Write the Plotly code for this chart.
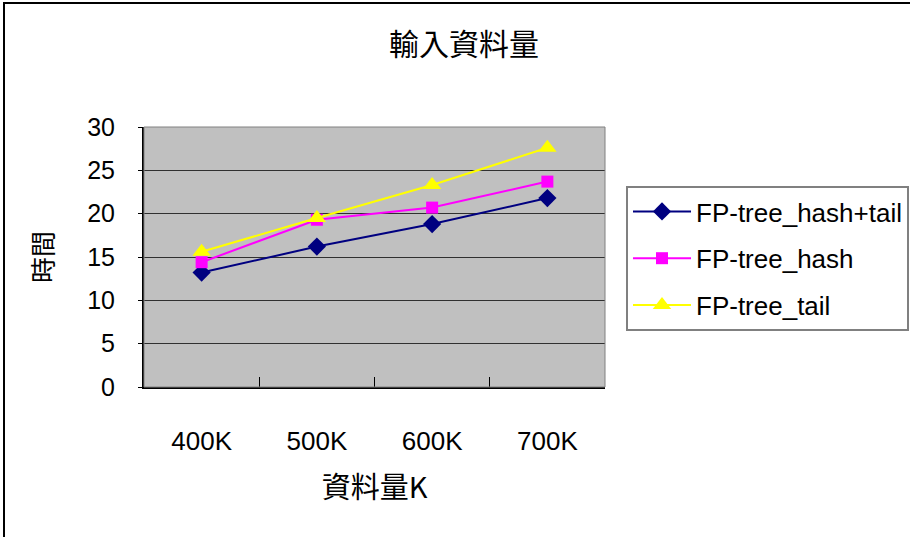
import plotly.graph_objects as go

# Input size categories (thousands of records)
categories = ["400K", "500K", "600K", "700K"]

# Run time for each FP-tree variant
hash_tail = [13.2, 16.2, 18.8, 21.8]
hash_only = [14.4, 19.3, 20.7, 23.7]
tail_only = [15.6, 19.5, 23.3, 27.6]

series_names = ["FP-tree_hash+tail", "FP-tree_hash", "FP-tree_tail"]

y_ticks = [0, 5, 10, 15, 20, 25, 30]

FONT = "Liberation Sans, Arial, Noto Sans CJK TC, sans-serif"
CJK = "Noto Sans CJK TC, Liberation Sans, sans-serif"

W, H = 910, 537
L, R, T, B = 144, 605, 127, 387

fig = go.Figure()

styles = [
    dict(color="#000080", symbol="diamond", size=14),
    dict(color="#FF00FF", symbol="square", size=12),
    dict(color="#FFFF00", symbol="triangle-up", size=16),
]

for name, vals, st, grp in zip(series_names, [hash_tail, hash_only, tail_only], styles, ["a", "b", "c"]):
    fig.add_trace(go.Scatter(
        x=categories, y=vals, name=name, mode="lines+markers",
        legendgroup=grp,
        line=dict(color=st["color"], width=2),
        marker=dict(symbol=st["symbol"], size=st["size"], color=st["color"],
                    line=dict(width=0)),
    ))

# outer chart frame
fig.add_shape(type="rect", xref="paper", yref="paper",
              x0=(4 - L) / (R - L), x1=(915 - L) / (R - L),
              y0=(B - 545) / (B - T), y1=(B - 3) / (B - T),
              line=dict(color="black", width=2), fillcolor="rgba(0,0,0,0)", layer="below")

# plot area border
fig.add_shape(type="rect", xref="paper", yref="paper", x0=0, x1=1, y0=0, y1=1,
              line=dict(color="#808080", width=1), fillcolor="rgba(0,0,0,0)", layer="above")

fig.update_layout(
    width=W, height=H,
    margin=dict(l=L, r=W - R, t=T, b=H - B, pad=0, autoexpand=False),
    paper_bgcolor="white",
    plot_bgcolor="#C0C0C0",
    font=dict(family=FONT, color="black", size=24),
    title=dict(text="輸入資料量", x=464 / W, xanchor="center", xref="container",
               y=1 - 44 / H, yanchor="middle", yref="container",
               font=dict(family=CJK, size=30, color="black")),
    showlegend=True,
    legend=dict(
        x=(626 - L) / (R - L), xanchor="left",
        y=(B - 186) / (B - T), yanchor="top",
        bgcolor="white", bordercolor="#808080", borderwidth=2,
        font=dict(family=FONT, size=26, color="black"),
        traceorder="grouped", tracegroupgap=10,
        itemwidth=58,
    ),
    xaxis=dict(
        type="category",
        tickson="boundaries", ticks="inside", ticklen=10, tickcolor="black",
        showline=True, linecolor="black", linewidth=2,
        showgrid=False, mirror=False,
        tickfont=dict(family=FONT, size=26),
        ticklabelstandoff=30,
        title=dict(text="資料量K", font=dict(family=CJK, size=29), standoff=22),
        range=[-0.5, 3.5],
    ),
    yaxis=dict(
        range=[0, 30], tickvals=y_ticks,
        ticks="outside", ticklen=4, tickcolor="black",
        showline=True, linecolor="black", linewidth=2,
        showgrid=True, gridcolor="#303030", gridwidth=1,
        zeroline=False,
        tickfont=dict(family=FONT, size=25),
        ticklabelstandoff=18,
        title=dict(text="時間", font=dict(family=CJK, size=26), standoff=26),
    ),
)

fig.write_html("out.html")
